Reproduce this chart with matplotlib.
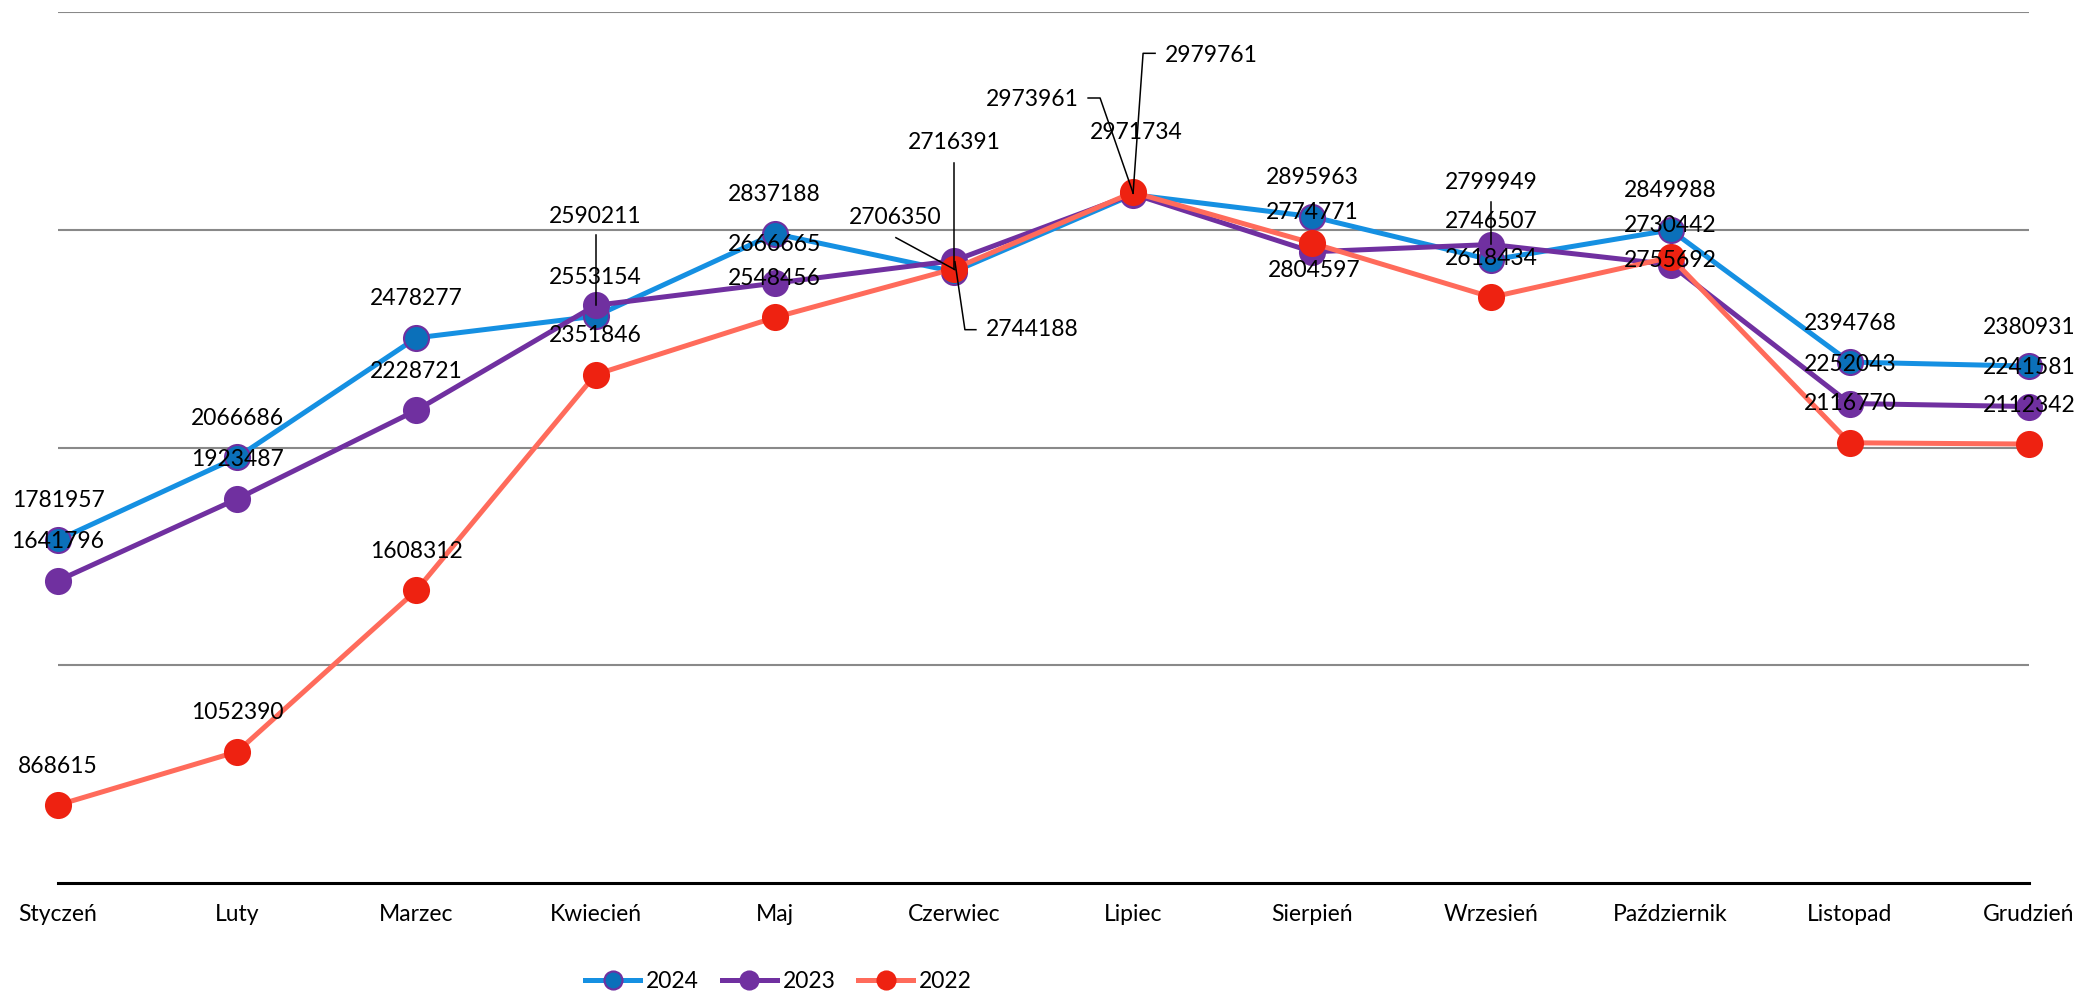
import numpy as np
import matplotlib.pyplot as plt

plt.rcParams['font.family'] = ['Lato', 'DejaVu Sans']

months = ['Styczeń', 'Luty', 'Marzec', 'Kwiecień', 'Maj', 'Czerwiec', 'Lipiec',
          'Sierpień', 'Wrzesień', 'Październik', 'Listopad', 'Grudzień']
years = ['2024', '2023', '2022']
v2024 = [1781957, 2066686, 2478277, 2553154, 2837188, 2706350, 2971734,
         2895963, 2746507, 2849988, 2394768, 2380931]
v2023 = [1641796, 1923487, 2228721, 2590211, 2666665, 2744188, 2973961,
         2774771, 2799949, 2730442, 2252043, 2241581]
v2022 = [868615, 1052390, 1608312, 2351846, 2548456, 2716391, 2979761,
         2804597, 2618434, 2755692, 2116770, 2112342]
values = {'2024': v2024, '2023': v2023, '2022': v2022}

# style per series: line colour, marker fill, marker edge
styles = {'2024': ('#1590E2', '#0B70BA', '#7030A0'),
          '2023': ('#7030A0', '#7030A0', '#7030A0'),
          '2022': ('#FF6B5B', '#EE2211', '#EE2211')}

# labels moved by hand in the original (pixel offsets, leader line points)
label_moves = {
    ('2023', 3): (0, 89, [(0, 70), (0, 0)]),
    ('2024', 5): (-59, 54, [(-58, 34), (1, 2)]),
    ('2023', 5): (78, -69, [(22, -69), (11, -69), (1, -1)]),
    ('2022', 5): (0, 126, [(0, 106), (0, 0)]),
    ('2024', 6): (3, 62, None),
    ('2023', 6): (-101, 94, [(-45, 96), (-33, 96), (0, 1)]),
    ('2022', 6): (78, 137, [(22, 139), (10, 139), (0, -1)]),
    ('2022', 7): (2, -27, None),
    ('2023', 8): (0, 62, [(0, 43), (0, 1)]),
    ('2022', 9): (0, -3, None),
}

fs = 16.5
fig = plt.figure(figsize=(20.82, 9.92), dpi=100)
ax = fig.add_axes([58 / 2082, 1 - 883 / 992, (2029 - 58) / 2082, (883 - 12.3) / 992])

x = np.arange(len(months))
for k, yr in enumerate(years):
    lc, mf, me = styles[yr]
    ax.plot(x, values[yr], color=lc, lw=3.6, marker='o', ms=18,
            mfc=mf, mec=me, mew=1.5, label=yr, clip_on=False, zorder=3 + k)

ax.set_xlim(0, 11)
ax.set_ylim(600000, 3600000)
ax.set_yticks([1350000, 2100000, 2850000, 3600000])
ax.yaxis.grid(True, color='#898989', lw=1.5)
ax.set_axisbelow(True)
ax.tick_params(axis='y', left=False, labelleft=False)
ax.set_xticks(x)
ax.set_xticklabels(months, fontsize=fs)
ax.tick_params(axis='x', length=0, pad=15)
for s in ['top', 'left', 'right']:
    ax.spines[s].set_visible(False)
ax.spines['bottom'].set_linewidth(2.2)
ax.spines['bottom'].set_color('black')
ax.spines['bottom'].set_zorder(2.5)

# data labels
for yr in years:
    for i, v in enumerate(values[yr]):
        dx, dy, leader = label_moves.get((yr, i), (0, 39, None))
        ax.annotate(str(v), (i, v), xytext=(dx, dy), textcoords='offset pixels',
                    ha='center', va='center', fontsize=fs, zorder=10,
                    annotation_clip=False)
        if leader:
            p = ax.transData.transform((i, v))
            pts = ax.transData.inverted().transform(np.array(leader) + p)
            ax.plot(pts[:, 0], pts[:, 1], color='black', lw=1.1,
                    clip_on=False, zorder=9)

leg = fig.legend(loc='center', bbox_to_anchor=(0.374, 0.011), ncol=3,
                 frameon=False, fontsize=fs, handlelength=2.4,
                 handletextpad=0.25, columnspacing=1.0, borderpad=0)
for h in leg.legend_handles:
    h.set_markersize(13)

fig.savefig('out.png', dpi=100)
